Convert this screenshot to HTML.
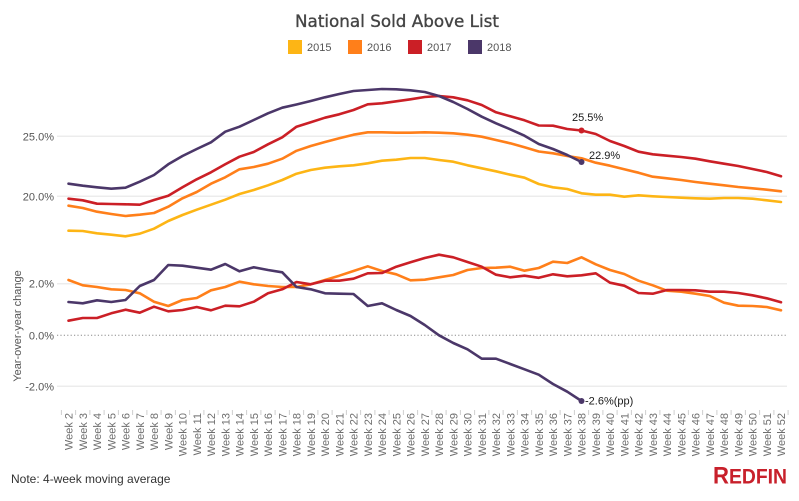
<!DOCTYPE html>
<html>
<head>
<meta charset="utf-8">
<style>
html,body{margin:0;padding:0;background:#fff;}
svg{display:block;}
.wk{font-family:"Liberation Sans",Arial,sans-serif;font-size:11px;fill:#6e6e6e;}
.yl{font-family:"Liberation Sans",Arial,sans-serif;font-size:11px;fill:#555;}
</style>
</head>
<body>
<svg width="799" height="501" viewBox="0 0 799 501" xmlns="http://www.w3.org/2000/svg">
<rect width="799" height="501" fill="#fff"/>
<!-- Title -->
<text x="397" y="27" text-anchor="middle" font-family="'DejaVu Sans','Liberation Sans',sans-serif" font-size="17" fill="#444" stroke="#444" stroke-width="0.35" textLength="204" lengthAdjust="spacingAndGlyphs">National Sold Above List</text>
<!-- Legend -->
<g font-family="'Liberation Sans',Arial,sans-serif" font-size="11" fill="#555">
<rect x="288" y="40" width="14" height="14" fill="#FDB515"/><text x="307" y="51">2015</text>
<rect x="348" y="40" width="14" height="14" fill="#FF7F1A"/><text x="367" y="51">2016</text>
<rect x="408" y="40" width="14" height="14" fill="#CB1F26"/><text x="427" y="51">2017</text>
<rect x="468" y="40" width="14" height="14" fill="#4B3769"/><text x="487" y="51">2018</text>
</g>
<!-- Grid -->
<g stroke="#ececec" stroke-width="1.5">
<line x1="57" y1="136.3" x2="787" y2="136.3"/>
<line x1="57" y1="196.3" x2="787" y2="196.3"/>
<line x1="57" y1="283.7" x2="787" y2="283.7"/>
<line x1="57" y1="386.3" x2="787" y2="386.3"/>
</g>
<line x1="57" y1="335.3" x2="787" y2="335.3" stroke="#8a8a8a" stroke-width="1" stroke-dasharray="1.2,2.2"/>
<!-- Y labels -->
<g class="yl" text-anchor="end">
<text x="54" y="140.3">25.0%</text>
<text x="54" y="200.3">20.0%</text>
<text x="54" y="287.7">2.0%</text>
<text x="54" y="339.3">0.0%</text>
<text x="54" y="390.3">-2.0%</text>
</g>
<text class="yl" transform="translate(21,326) rotate(-90)" text-anchor="middle">Year-over-year change</text>

<!-- Top panel series -->
<g fill="none" stroke-width="2.6" stroke-linejoin="round" stroke-linecap="round">
<polyline stroke="#FDB515" points="68.5,230.7 82.75,231 97,233.3 111.25,234.7 125.5,236.3 139.75,233.7 154,228.7 168.25,221 182.5,215 196.75,209.7 211,204.7 225.25,199.7 239.5,194 253.75,190 268,185.3 282.25,180 296.5,173.7 310.75,170 325,167.7 339.25,166.3 353.5,165.3 367.75,163.3 382,160.7 396.25,159.7 410.5,158 424.75,158 439,160 453.25,161.7 467.5,165.3 481.75,168.3 496,171.3 510.25,174.7 524.5,177.7 538.75,184 553,187.3 567.25,189 581.5,193.3 595.75,194.7 610,194.7 624.25,196.7 638.5,195.3 652.75,196.3 667,197 681.25,197.7 695.5,198.3 709.75,198.7 724,198 738.25,198 752.5,198.7 766.75,200.3 781,202"/>
<polyline stroke="#FF7F1A" points="68.5,205.7 82.75,208 97,211.7 111.25,214 125.5,216 139.75,214.7 154,213 168.25,206.7 182.5,198.3 196.75,192 211,183.7 225.25,177.3 239.5,169.3 253.75,167 268,163.7 282.25,158.7 296.5,150.8 310.75,146 325,142 339.25,138.3 353.5,134.7 367.75,132.3 382,132.3 396.25,132.7 410.5,132.7 424.75,132.3 439,132.7 453.25,133.3 467.5,134.7 481.75,136.7 496,140 510.25,143.3 524.5,147.3 538.75,151.5 553,153.3 567.25,156 581.5,158.3 595.75,162.7 610,165.7 624.25,169.3 638.5,172.7 652.75,176.7 667,178.3 681.25,180 695.5,182 709.75,183.7 724,185.3 738.25,187 752.5,188.3 766.75,189.7 781,191.3"/>
<polyline stroke="#CB1F26" points="68.5,198.7 82.75,200.3 97,203.7 111.25,204 125.5,204.3 139.75,204.7 154,200 168.25,195.7 182.5,187.3 196.75,179.3 211,172.3 225.25,164.3 239.5,156.7 253.75,152 268,144.3 282.25,137.3 296.5,126.7 310.75,122.3 325,117.7 339.25,114.3 353.5,110 367.75,104.3 382,103.3 396.25,101.3 410.5,99.3 424.75,97 439,96 453.25,97.3 467.5,100.3 481.75,105 496,112.3 510.25,116.3 524.5,120.3 538.75,125.5 553,125.7 567.25,129 581.5,130.5 595.75,134 610,141 624.25,146 638.5,151.7 652.75,154.3 667,155.7 681.25,157 695.5,158.7 709.75,161.3 724,163.7 738.25,166 752.5,169 766.75,172 781,176.3"/>
<polyline stroke="#4B3769" points="68.5,183.7 82.75,185.7 97,187.3 111.25,188.7 125.5,187.7 139.75,181.7 154,175 168.25,164.3 182.5,156 196.75,149 211,142.3 225.25,131.7 239.5,126.7 253.75,120 268,113.3 282.25,107.7 296.5,104.5 310.75,101 325,97.3 339.25,94 353.5,91 367.75,90 382,89 396.25,89.3 410.5,90.3 424.75,92 439,96 453.25,102 467.5,109 481.75,116.7 496,123.3 510.25,129.3 524.5,135.7 538.75,144 553,149 567.25,155 581.5,162"/>

<!-- Bottom panel series -->
<polyline stroke="#FF7F1A" points="68.5,280 82.75,285.3 97,287 111.25,289.3 125.5,290 139.75,293.3 154,301.7 168.25,306 182.5,300 196.75,298 211,290.3 225.25,287 239.5,281.7 253.75,284.3 268,286 282.25,287 296.5,287 310.75,284.3 325,280 339.25,275.7 353.5,271 367.75,266.3 382,271 396.25,274.3 410.5,280.3 424.75,279.7 439,277.3 453.25,275 467.5,270 481.75,268 496,267.7 510.25,266.7 524.5,270.7 538.75,268 553,261.7 567.25,263 581.5,257.3 595.75,264.3 610,270 624.25,274 638.5,280.7 652.75,285.3 667,290.7 681.25,291.7 695.5,293.7 709.75,296 724,302.7 738.25,305.7 752.5,306 766.75,307 781,310.3"/>
<polyline stroke="#CB1F26" points="68.5,320.7 82.75,318 97,318 111.25,313.3 125.5,309.7 139.75,312.7 154,306.7 168.25,311.3 182.5,310 196.75,307 211,310.3 225.25,305.7 239.5,306.3 253.75,301.7 268,293.3 282.25,289.3 296.5,282 310.75,284.3 325,280.7 339.25,280.7 353.5,278.7 367.75,273.3 382,273 396.25,266.7 410.5,262.3 424.75,258 439,254.7 453.25,257.3 467.5,262 481.75,266.7 496,274.7 510.25,277.3 524.5,275.7 538.75,277.8 553,274.3 567.25,276.3 581.5,275.3 595.75,273.3 610,282.7 624.25,285.7 638.5,293 652.75,293.7 667,290 681.25,290 695.5,290.3 709.75,291.7 724,291.7 738.25,293 752.5,295.3 766.75,298.3 781,302.3"/>
<polyline stroke="#4B3769" points="68.5,302 82.75,303.3 97,300.3 111.25,302 125.5,300 139.75,286 154,280 168.25,265 182.5,265.7 196.75,267.7 211,269.7 225.25,264 239.5,271.3 253.75,267.3 268,270 282.25,272.3 296.5,287 310.75,289.3 325,293.3 339.25,293.7 353.5,294 367.75,306 382,303.3 396.25,310 410.5,316 424.75,325 439,335.3 453.25,343 467.5,349.3 481.75,358.7 496,358.7 510.25,364 524.5,369.3 538.75,374.7 553,384 567.25,391.7 581.5,401"/>
</g>
<!-- Markers -->
<circle cx="581.5" cy="130.5" r="3" fill="#CB1F26"/>
<circle cx="581.5" cy="162" r="3" fill="#4B3769"/>
<circle cx="581.5" cy="401" r="3" fill="#4B3769"/>
<!-- Annotations -->
<g font-family="'Liberation Sans',Arial,sans-serif" font-size="11" fill="#1a1a1a">
<text x="572" y="121">25.5%</text>
<text x="589" y="159">22.9%</text>
<text x="585" y="404.5">-2.6%(pp)</text>
</g>
<!-- X ticks -->
<g stroke="#cfcfcf" stroke-width="1">
<line x1="61.4" y1="410" x2="61.4" y2="415"/><line x1="75.6" y1="410" x2="75.6" y2="415"/><line x1="89.9" y1="410" x2="89.9" y2="415"/><line x1="104.1" y1="410" x2="104.1" y2="415"/><line x1="118.4" y1="410" x2="118.4" y2="415"/><line x1="132.6" y1="410" x2="132.6" y2="415"/><line x1="146.9" y1="410" x2="146.9" y2="415"/><line x1="161.1" y1="410" x2="161.1" y2="415"/><line x1="175.4" y1="410" x2="175.4" y2="415"/><line x1="189.6" y1="410" x2="189.6" y2="415"/><line x1="203.9" y1="410" x2="203.9" y2="415"/><line x1="218.1" y1="410" x2="218.1" y2="415"/><line x1="232.4" y1="410" x2="232.4" y2="415"/><line x1="246.6" y1="410" x2="246.6" y2="415"/><line x1="260.9" y1="410" x2="260.9" y2="415"/><line x1="275.1" y1="410" x2="275.1" y2="415"/><line x1="289.4" y1="410" x2="289.4" y2="415"/><line x1="303.6" y1="410" x2="303.6" y2="415"/><line x1="317.9" y1="410" x2="317.9" y2="415"/><line x1="332.1" y1="410" x2="332.1" y2="415"/><line x1="346.4" y1="410" x2="346.4" y2="415"/><line x1="360.6" y1="410" x2="360.6" y2="415"/><line x1="374.9" y1="410" x2="374.9" y2="415"/><line x1="389.1" y1="410" x2="389.1" y2="415"/><line x1="403.4" y1="410" x2="403.4" y2="415"/><line x1="417.6" y1="410" x2="417.6" y2="415"/><line x1="431.9" y1="410" x2="431.9" y2="415"/><line x1="446.1" y1="410" x2="446.1" y2="415"/><line x1="460.4" y1="410" x2="460.4" y2="415"/><line x1="474.6" y1="410" x2="474.6" y2="415"/><line x1="488.9" y1="410" x2="488.9" y2="415"/><line x1="503.1" y1="410" x2="503.1" y2="415"/><line x1="517.4" y1="410" x2="517.4" y2="415"/><line x1="531.6" y1="410" x2="531.6" y2="415"/><line x1="545.9" y1="410" x2="545.9" y2="415"/><line x1="560.1" y1="410" x2="560.1" y2="415"/><line x1="574.4" y1="410" x2="574.4" y2="415"/><line x1="588.6" y1="410" x2="588.6" y2="415"/><line x1="602.9" y1="410" x2="602.9" y2="415"/><line x1="617.1" y1="410" x2="617.1" y2="415"/><line x1="631.4" y1="410" x2="631.4" y2="415"/><line x1="645.6" y1="410" x2="645.6" y2="415"/><line x1="659.9" y1="410" x2="659.9" y2="415"/><line x1="674.1" y1="410" x2="674.1" y2="415"/><line x1="688.4" y1="410" x2="688.4" y2="415"/><line x1="702.6" y1="410" x2="702.6" y2="415"/><line x1="716.9" y1="410" x2="716.9" y2="415"/><line x1="731.1" y1="410" x2="731.1" y2="415"/><line x1="745.4" y1="410" x2="745.4" y2="415"/><line x1="759.6" y1="410" x2="759.6" y2="415"/><line x1="773.9" y1="410" x2="773.9" y2="415"/><line x1="788.1" y1="410" x2="788.1" y2="415"/>
</g>
<!-- X labels -->
<g class="wk" text-anchor="end">
<text transform="translate(72.5,413) rotate(-90)">Week 2</text>
<text transform="translate(86.75,413) rotate(-90)">Week 3</text>
<text transform="translate(101,413) rotate(-90)">Week 4</text>
<text transform="translate(115.25,413) rotate(-90)">Week 5</text>
<text transform="translate(129.5,413) rotate(-90)">Week 6</text>
<text transform="translate(143.75,413) rotate(-90)">Week 7</text>
<text transform="translate(158,413) rotate(-90)">Week 8</text>
<text transform="translate(172.25,413) rotate(-90)">Week 9</text>
<text transform="translate(186.5,413) rotate(-90)">Week 10</text>
<text transform="translate(200.75,413) rotate(-90)">Week 11</text>
<text transform="translate(215,413) rotate(-90)">Week 12</text>
<text transform="translate(229.25,413) rotate(-90)">Week 13</text>
<text transform="translate(243.5,413) rotate(-90)">Week 14</text>
<text transform="translate(257.75,413) rotate(-90)">Week 15</text>
<text transform="translate(272,413) rotate(-90)">Week 16</text>
<text transform="translate(286.25,413) rotate(-90)">Week 17</text>
<text transform="translate(300.5,413) rotate(-90)">Week 18</text>
<text transform="translate(314.75,413) rotate(-90)">Week 19</text>
<text transform="translate(329,413) rotate(-90)">Week 20</text>
<text transform="translate(343.25,413) rotate(-90)">Week 21</text>
<text transform="translate(357.5,413) rotate(-90)">Week 22</text>
<text transform="translate(371.75,413) rotate(-90)">Week 23</text>
<text transform="translate(386,413) rotate(-90)">Week 24</text>
<text transform="translate(400.25,413) rotate(-90)">Week 25</text>
<text transform="translate(414.5,413) rotate(-90)">Week 26</text>
<text transform="translate(428.75,413) rotate(-90)">Week 27</text>
<text transform="translate(443,413) rotate(-90)">Week 28</text>
<text transform="translate(457.25,413) rotate(-90)">Week 29</text>
<text transform="translate(471.5,413) rotate(-90)">Week 30</text>
<text transform="translate(485.75,413) rotate(-90)">Week 31</text>
<text transform="translate(500,413) rotate(-90)">Week 32</text>
<text transform="translate(514.25,413) rotate(-90)">Week 33</text>
<text transform="translate(528.5,413) rotate(-90)">Week 34</text>
<text transform="translate(542.75,413) rotate(-90)">Week 35</text>
<text transform="translate(557,413) rotate(-90)">Week 36</text>
<text transform="translate(571.25,413) rotate(-90)">Week 37</text>
<text transform="translate(585.5,413) rotate(-90)">Week 38</text>
<text transform="translate(599.75,413) rotate(-90)">Week 39</text>
<text transform="translate(614,413) rotate(-90)">Week 40</text>
<text transform="translate(628.25,413) rotate(-90)">Week 41</text>
<text transform="translate(642.5,413) rotate(-90)">Week 42</text>
<text transform="translate(656.75,413) rotate(-90)">Week 43</text>
<text transform="translate(671,413) rotate(-90)">Week 44</text>
<text transform="translate(685.25,413) rotate(-90)">Week 45</text>
<text transform="translate(699.5,413) rotate(-90)">Week 46</text>
<text transform="translate(713.75,413) rotate(-90)">Week 47</text>
<text transform="translate(728,413) rotate(-90)">Week 48</text>
<text transform="translate(742.25,413) rotate(-90)">Week 49</text>
<text transform="translate(756.5,413) rotate(-90)">Week 50</text>
<text transform="translate(770.75,413) rotate(-90)">Week 51</text>
<text transform="translate(785,413) rotate(-90)">Week 52</text>
</g>
<!-- Note -->
<text x="11" y="483" font-family="'Liberation Sans',Arial,sans-serif" font-size="12" fill="#333">Note: 4-week moving average</text>
<!-- Logo -->
<text x="713" y="483.5" font-family="'Liberation Sans',Arial,sans-serif" font-weight="bold" fill="#C8202B" textLength="74" lengthAdjust="spacingAndGlyphs"><tspan font-size="24">R</tspan><tspan font-size="21">EDFIN</tspan></text>
</svg>
</body>
</html>
